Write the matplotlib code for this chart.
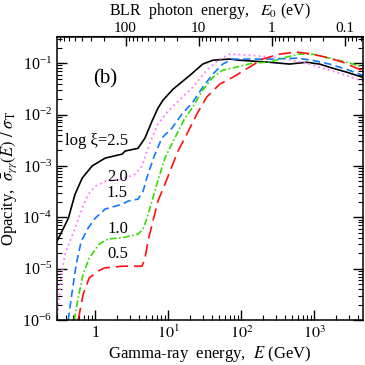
import matplotlib
matplotlib.use("Agg")
import matplotlib.pyplot as plt
from matplotlib.ticker import FixedLocator, FuncFormatter, LogLocator, NullFormatter
import numpy as np

plt.rcParams['font.family'] = ['Liberation Serif', 'DejaVu Serif']
plt.rcParams['mathtext.fontset'] = 'stix'

# gamma-ray energy (GeV) and opacity / sigma_T, one pair per log xi curve
e_25 = [0.30, 0.43, 0.53, 0.665, 0.91, 1.37, 2.34, 2.57, 3.86, 4.81, 5.99, 7.23, 8.47,
        11.6, 19.8, 29.7, 40.7, 69.5, 95, 244, 457, 780, 1175, 1766, 2739, 4600]
op_25 = [3.4e-5, 9.6e-5, 2.8e-4, 5.8e-4, 1.0e-3, 1.42e-3, 1.7e-3, 1.95e-3, 2.2e-3, 3.5e-3,
         7.4e-3, 1.33e-2, 1.9e-2, 3.1e-2, 5.8e-2, 9.6e-2, 0.114, 0.12, 0.114, 0.104, 0.096,
         0.104, 0.096, 0.080, 0.067, 0.053]

e_20 = [0.30, 0.344, 0.39, 0.533, 0.665, 0.803, 1.0, 1.37, 2.34, 3.51, 4.38, 5.12, 5.99,
        7.23, 9.91, 13.6, 21.7, 33.7, 50.7, 69.5, 130, 244, 416, 780, 1464, 2417, 4122, 4600]
op_20 = [1.0e-6, 7.2e-6, 2.0e-5, 6.2e-5, 1.5e-4, 2.8e-4, 4.0e-4, 5.0e-4, 5.5e-4, 6.9e-4,
         1.0e-3, 1.95e-3, 3.5e-3, 6.5e-3, 1.16e-2, 1.8e-2, 3.4e-2, 7.3e-2, 0.12, 0.15, 0.143,
         0.131, 0.12, 0.10, 0.076, 0.061, 0.047, 0.045]

e_15 = [0.428, 0.471, 0.551, 0.644, 0.803, 1.0, 1.37, 2.34, 2.82, 3.86, 4.52, 5.28, 6.59,
        8.2, 11.2, 15.4, 21.7, 29.7, 40.7, 55.7, 76.3, 143, 268, 570, 942, 1607, 2739, 4600]
op_15 = [1.0e-6, 2.7e-6, 1.23e-5, 3.4e-5, 6.2e-5, 9.6e-5, 1.45e-4, 1.8e-4, 2.07e-4, 2.26e-4,
         3.2e-4, 6.9e-4, 1.7e-3, 3.5e-3, 5.4e-3, 1.02e-2, 1.74e-2, 3.4e-2, 6.1e-2, 9.6e-2,
         0.12, 0.12, 0.12, 0.125, 0.114, 0.096, 0.076, 0.058]

e_10 = [0.517, 0.586, 0.686, 0.828, 1.13, 1.50, 2.34, 3.86, 4.52, 5.12, 5.99, 7.23, 9.01,
        12.3, 16.9, 21.7, 29.7, 40.7, 55.7, 86.5, 143, 244, 416, 626, 942, 1607, 2739, 4600]
op_10 = [1.0e-6, 2.7e-6, 7.9e-6, 1.6e-5, 3.0e-5, 3.8e-5, 4.0e-5, 4.7e-5, 5.9e-5, 9.6e-5,
         2.07e-4, 5.2e-4, 1.42e-3, 3.5e-3, 8.5e-3, 1.4e-2, 3.0e-2, 5.3e-2, 7.3e-2, 8.4e-2,
         0.10, 0.105, 0.131, 0.15, 0.15, 0.125, 0.105, 0.084]

e_05 = [0.586, 0.686, 0.828, 1.10, 1.33, 2.34, 4.38, 4.81, 5.28, 6.18, 7.23, 9.01, 13.6,
        16.9, 24.6, 33.7, 50.7, 76.3, 130, 196, 334, 570, 942, 1607, 2417, 4122, 4600]
op_05 = [1.0e-6, 3.2e-6, 6.6e-6, 9.0e-6, 1.03e-5, 1.12e-5, 1.12e-5, 1.6e-5, 3.4e-5, 8.5e-5,
         2.07e-4, 4.4e-4, 1.95e-3, 3.5e-3, 1.02e-2, 2.2e-2, 3.9e-2, 5.3e-2, 8.4e-2, 0.12,
         0.15, 0.164, 0.15, 0.125, 0.105, 0.076, 0.073]

labels = ['log ξ=2.5', '2.0', '1.5', '1.0', '0.5']

fig = plt.figure(figsize=(3.65, 3.65), dpi=100)
ax = fig.add_axes([0.156, 0.123, 0.838, 0.777])

ax.plot(e_25, op_25, color='black', lw=1.2)
ax.plot(e_20, op_20, color='#ff77ff', lw=1.3, dashes=(1, 1.8))
ax.plot(e_15, op_15, color='#1177ff', lw=1.2, dashes=(4.5, 2.5))
ax.plot(e_10, op_10, color='#33dd00', lw=1.2, dashes=(4, 1.5, 1, 1.5))
ax.plot(e_05, op_05, color='#ff1111', lw=1.2, dashes=(7.5, 3.5))

ax.set_xscale('log')
ax.set_yscale('log')
ax.set_xlim(0.3, 4600)
ax.set_ylim(1e-6, 0.33)

ax.xaxis.set_major_locator(FixedLocator([1, 10, 100, 1000]))
ax.xaxis.set_major_formatter(FuncFormatter(
    lambda v, p: '1' if v == 1 else r'$10^{%d}$' % round(np.log10(v))))
ax.xaxis.set_minor_locator(LogLocator(base=10, subs=np.arange(2, 10), numticks=20))
ax.xaxis.set_minor_formatter(NullFormatter())
ax.yaxis.set_major_locator(LogLocator(base=10, numticks=20))
ax.yaxis.set_minor_locator(LogLocator(base=10, subs=np.arange(2, 10), numticks=20))
ax.yaxis.set_minor_formatter(NullFormatter())

ax.tick_params(which='both', direction='in', right=True, top=False, labelsize=11.5)
ax.tick_params(which='major', length=7, width=1)
ax.tick_params(which='minor', length=3.5, width=0.8)
for s in ax.spines.values():
    s.set_linewidth(1.1)

ax.set_xlabel('Gamma-ray  energy,  $E$ (GeV)', fontsize=12, labelpad=1)
ax.set_ylabel(r'Opacity,  $\bar{\sigma}_{\gamma\gamma}(E)\ /\ \sigma_{\rm T}$', fontsize=12, labelpad=2)

# top axis: threshold photon energy E0 = (m_e c^2)^2 / E
conv = lambda x: 261.0 / np.asarray(x, dtype=float)
sec = ax.secondary_xaxis('top', functions=(conv, conv))
sec.xaxis.set_major_locator(FixedLocator([0.1, 1, 10, 100]))
sec.xaxis.set_major_formatter(FuncFormatter(lambda v, p: '%g' % v))
sec.xaxis.set_minor_locator(LogLocator(base=10, subs=np.arange(2, 10), numticks=20))
sec.xaxis.set_minor_formatter(NullFormatter())
sec.tick_params(which='both', direction='in', labelsize=11, pad=1)
sec.tick_params(which='major', length=7, width=1)
sec.tick_params(which='minor', length=3.5, width=0.8)
fig.text(0.575, 0.997, 'BLR  photon  energy,   $E_0$ (eV)', fontsize=11.5,
         ha='center', va='top')

ax.text(0.157, 0.849, '(b)', transform=ax.transAxes, fontsize=15, ha='center', va='center')
ax.text(0.026, 0.632, labels[0], transform=ax.transAxes, fontsize=12, ha='left', va='center')
label_y = [0.505, 0.449, 0.323, 0.232]
for lab, yy in zip(labels[1:], label_y):
    ax.text(0.232, yy, lab, transform=ax.transAxes, fontsize=12, ha='right', va='center')

fig.savefig('out.png', dpi=100)
